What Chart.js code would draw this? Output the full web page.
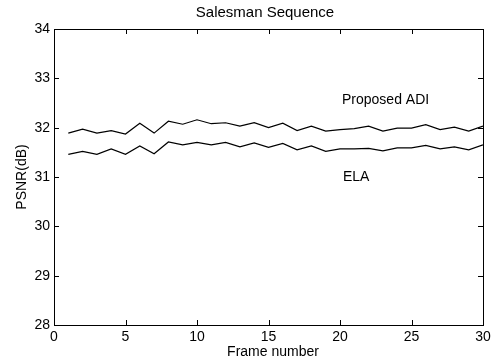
<!DOCTYPE html>
<html>
<head>
<meta charset="utf-8">
<script src="https://cdn.jsdelivr.net/npm/chart.js@4.4.1/dist/chart.umd.min.js"></script>
<style>
  html, body { margin: 0; padding: 0; background: #fff; }
  #wrap { width: 503px; height: 363px; }
</style>
</head>
<body>
<div id="wrap"><canvas id="psnr" width="503" height="363"></canvas></div>
<script>
// Salesman sequence, PSNR per frame for the two deinterlacers
const frames = [1, 2, 3, 4, 5, 6, 7, 8, 9, 10, 11, 12, 13, 14, 15, 16, 17, 18, 19, 20, 21, 22, 23, 24, 25, 26, 27, 28, 29, 30];
const adi = [31.89, 31.97, 31.89, 31.94, 31.87, 32.09, 31.89, 32.13, 32.07, 32.16, 32.08, 32.10, 32.03, 32.10, 32.00,
             32.09, 31.94, 32.03, 31.93, 31.96, 31.98, 32.03, 31.93, 31.99, 31.99, 32.06, 31.96, 32.01, 31.93, 32.03];
const ela = [31.46, 31.52, 31.46, 31.57, 31.46, 31.63, 31.47, 31.71, 31.65, 31.70, 31.65, 31.70, 31.61, 31.69, 31.60,
             31.68, 31.55, 31.63, 31.52, 31.57, 31.57, 31.58, 31.53, 31.59, 31.59, 31.64, 31.57, 31.61, 31.55, 31.65];
const xTicks = [0, 5, 10, 15, 20, 25, 30];
const yTicks = [28, 29, 30, 31, 32, 33, 34];

const FONT = '"Liberation Sans", Arial, sans-serif';

// matlab-ish frame: box, inward ticks, text labels
const frameBox = {
  id: 'frameBox',
  afterDraw(chart) {
    const { ctx, chartArea: a, scales } = chart;
    const tl = 5;
    ctx.save();
    ctx.strokeStyle = '#000';
    ctx.lineWidth = 1;
    ctx.strokeRect(a.left + 0.5, a.top + 0.5, a.right - a.left, a.bottom - a.top);
    ctx.beginPath();
    xTicks.forEach(v => {
      const x = Math.round(scales.x.getPixelForValue(v)) + 0.5;
      ctx.moveTo(x, a.bottom); ctx.lineTo(x, a.bottom - tl);
      ctx.moveTo(x, a.top); ctx.lineTo(x, a.top + tl);
    });
    yTicks.forEach(v => {
      const y = Math.round(scales.y.getPixelForValue(v)) + 0.5;
      ctx.moveTo(a.left, y); ctx.lineTo(a.left + tl, y);
      ctx.moveTo(a.right, y); ctx.lineTo(a.right - tl, y);
    });
    ctx.stroke();

    ctx.fillStyle = '#000';
    ctx.textAlign = 'center';
    ctx.textBaseline = 'middle';
    ctx.font = '15px ' + FONT;
    ctx.fillText('Salesman Sequence', 265, 13);
    ctx.font = '14px ' + FONT;
    ctx.fillText('Frame number', 273, 352);
    ctx.textAlign = 'left';
    ctx.fillText('Proposed ADI', 342, 100);
    ctx.fillText('ELA', 343, 177);
    ctx.textAlign = 'center';
    ctx.translate(22, 177);
    ctx.rotate(-Math.PI / 2);
    ctx.fillText('PSNR(dB)', 0, 0);
    ctx.restore();
  }
};

const tickFont = { family: FONT, size: 14 };

new Chart(document.getElementById('psnr'), {
  type: 'line',
  data: {
    datasets: [
      { label: 'Proposed ADI', data: frames.map((f, i) => ({ x: f, y: adi[i] })) },
      { label: 'ELA', data: frames.map((f, i) => ({ x: f, y: ela[i] })) }
    ]
  },
  options: {
    responsive: false,
    animation: false,
    devicePixelRatio: 1,
    layout: { padding: { top: 29, right: 20, left: 0, bottom: 0 } },
    elements: {
      line: { borderColor: '#000', borderWidth: 1.2, tension: 0 },
      point: { radius: 0 }
    },
    plugins: { legend: { display: false }, tooltip: { enabled: false } },
    scales: {
      x: {
        type: 'linear', min: 0, max: 30,
        afterBuildTicks: s => { s.ticks = xTicks.map(v => ({ value: v })); },
        afterFit: s => { s.height = 38; },
        grid: { display: false, drawTicks: false },
        border: { display: false },
        ticks: { color: '#000', font: tickFont, padding: 4, maxRotation: 0 }
      },
      y: {
        min: 28, max: 34,
        afterBuildTicks: s => { s.ticks = yTicks.map(v => ({ value: v })); },
        afterFit: s => { s.width = 54; },
        grid: { display: false, drawTicks: false },
        border: { display: false },
        ticks: { color: '#000', font: tickFont, padding: 4 }
      }
    }
  },
  plugins: [frameBox]
});
</script>
</body>
</html>
